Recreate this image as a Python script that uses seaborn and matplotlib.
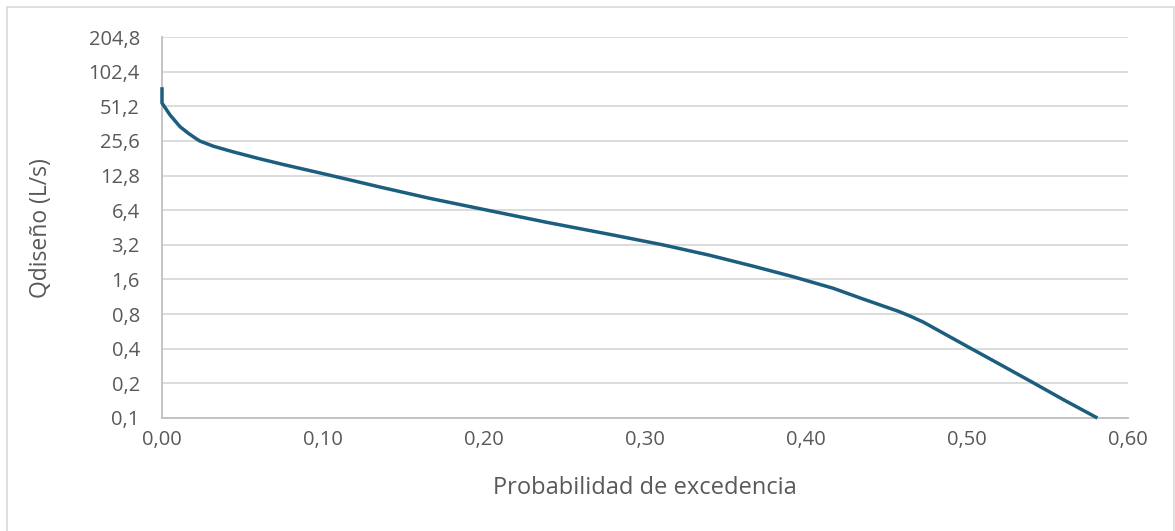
import numpy as np
import pandas as pd
import seaborn as sns
import matplotlib
matplotlib.use("Agg")
import matplotlib.pyplot as plt
from matplotlib.patches import Rectangle
from matplotlib.ticker import FixedLocator, FuncFormatter, NullLocator

# Flow duration curve: exceedance probability vs design flow (L/s)
prob = [0.000, 0.000, 0.005, 0.0112, 0.0164, 0.0205, 0.0236, 0.032, 0.044, 0.060,
        0.075, 0.098, 0.117, 0.135, 0.1665, 0.2037, 0.239, 0.2803, 0.311, 0.340,
        0.367, 0.392, 0.417, 0.434, 0.458, 0.465, 0.473, 0.500, 0.520, 0.541,
        0.560, 0.581]
qdis = [75.0, 54.6, 43.0, 34.0, 29.8, 27.2, 25.5, 23.0, 20.6, 18.0,
        16.0, 13.5, 11.7, 10.2, 8.1, 6.33, 5.02, 3.89, 3.2, 2.6,
        2.09, 1.69, 1.34, 1.10, 0.84, 0.765, 0.68, 0.42, 0.295, 0.203,
        0.144, 0.10]

y_ticks = [0.1, 0.2, 0.4, 0.8, 1.6, 3.2, 6.4, 12.8, 25.6, 51.2, 102.4, 204.8]
x_ticks = [0.0, 0.1, 0.2, 0.3, 0.4, 0.5, 0.6]

df = pd.DataFrame({"prob": prob, "q": qdis})

sns.set_theme(style="white")
plt.rcParams["font.family"] = ["Open Sans", "DejaVu Sans"]

text_col = "#595959"
grid_col = "#D9D9D9"
line_col = "#1B5E7D"

fig = plt.figure(figsize=(11.75, 5.31), dpi=100)
ax = fig.add_axes([162 / 1175, 113 / 531, (1128 - 162) / 1175, (418 - 37) / 531])

sns.lineplot(data=df, x="prob", y="q", ax=ax, color=line_col, linewidth=2.5,
             estimator=None, sort=False)
curve = ax.lines[0]
curve.set_solid_joinstyle("round")
curve.set_solid_capstyle("butt")
curve.set_clip_on(False)
curve.set_zorder(3)

ax.set_yscale("log", base=2)
ax.set_ylim(0.1, 204.8)
ax.set_xlim(0, 0.6)
ax.yaxis.set_major_locator(FixedLocator(y_ticks))
ax.yaxis.set_minor_locator(NullLocator())
ax.xaxis.set_major_locator(FixedLocator(x_ticks))
ax.yaxis.set_major_formatter(FuncFormatter(lambda v, p: f"{v:.1f}".replace(".", ",")))
ax.xaxis.set_major_formatter(FuncFormatter(lambda v, p: f"{v:.2f}".replace(".", ",")))

ax.grid(axis="y", color=grid_col, linewidth=1.3)
ax.grid(axis="x", visible=False)
ax.set_axisbelow(True)
for side in ("top", "right"):
    ax.spines[side].set_visible(False)
for side in ("left", "bottom"):
    ax.spines[side].set_color("#BFBFBF")
    ax.spines[side].set_linewidth(1.3)

ax.tick_params(axis="both", length=0, labelsize=14.5, labelcolor=text_col)
ax.tick_params(axis="y", pad=16)
ax.tick_params(axis="x", pad=9)

ax.set_xlabel("Probabilidad de excedencia", fontsize=17, color=text_col, va="center")
ax.set_ylabel("Qdiseño (L/s)", fontsize=16.5, color=text_col, va="center")
ax.xaxis.set_label_coords((645 - 162) / 966, (418 - 488) / 381)
ax.yaxis.set_label_coords((41 - 162) / 966, 0.5 + (418 - 228 - 190.5) / 381)

# light frame around the chart area
fig.patches.append(Rectangle((7 / 1175, -0.05), 1166.5 / 1175, 1.05 - 7 / 531,
                             transform=fig.transFigure, fill=False,
                             edgecolor=grid_col, linewidth=1.2))

fig.savefig("out.png", dpi=100)
